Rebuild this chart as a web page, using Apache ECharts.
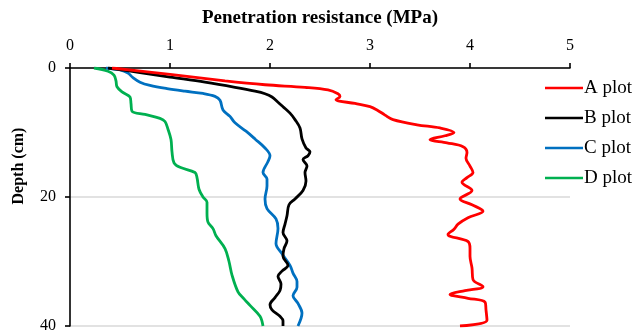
<!DOCTYPE html>
<html>
<head>
<meta charset="utf-8">
<script src="https://cdn.jsdelivr.net/npm/echarts@6/dist/echarts.min.js"></script>
<style>
  html, body { margin: 0; padding: 0; background: #fff; }
  #chart { width: 637px; height: 334px; }
</style>
</head>
<body>
<div id="chart"></div>
<script>
// Penetration resistance (MPa) against depth (cm) for four plots
const seriesNames = ['A plot', 'B plot', 'C plot', 'D plot'];
const xTicks = [0, 1, 2, 3, 4, 5];
const yTicks = [0, 20, 40];

const aDepth = [0, 1, 2, 2.6, 3.0, 3.4, 4.0, 4.4, 4.9, 5.5, 6.0, 6.5, 7.3, 8.0, 8.8, 9.3, 10.0, 10.5, 11.1, 11.6, 12.2, 13.1, 14, 15.2, 16.2, 17.0, 17.7, 19.0, 20.3, 21.2, 22.2, 23.2, 24.2, 25.0, 25.8, 26.9, 28, 29.2, 31, 32.8, 33.9, 34.5, 35.1, 35.7, 36.3, 37.5, 39.1, 40];
const aValue = [0.42, 1.0, 1.55, 1.95, 2.35, 2.58, 2.68, 2.70, 2.66, 2.85, 3.0, 3.07, 3.15, 3.23, 3.47, 3.70, 3.84, 3.75, 3.60, 3.77, 3.93, 3.97, 3.96, 4.0, 4.03, 3.97, 3.92, 4.02, 3.9, 4.02, 4.13, 3.98, 3.88, 3.84, 3.78, 3.98, 4.0, 4.0, 4.02, 4.03, 4.13, 3.95, 3.8, 3.98, 4.15, 4.16, 4.17, 3.9];

const bDepth = [0, 0.7, 1.4, 2.2, 3.0, 3.6, 4.0, 4.5, 5.3, 6.0, 7.0, 8.0, 9.3, 11.0, 12.4, 13.0, 13.6, 14.2, 15.2, 16.2, 17.5, 19.0, 20.3, 21.2, 22.9, 24.2, 25.5, 26.8, 28.0, 29.2, 30.6, 31.5, 32.3, 33.5, 34.5, 35.6, 36.7, 37.5, 38.5, 39.2, 40];
const bValue = [0.38, 0.7, 1.0, 1.35, 1.65, 1.85, 1.95, 2.02, 2.08, 2.13, 2.2, 2.25, 2.3, 2.32, 2.36, 2.4, 2.38, 2.33, 2.37, 2.35, 2.36, 2.33, 2.25, 2.19, 2.17, 2.15, 2.13, 2.17, 2.14, 2.13, 2.18, 2.12, 2.08, 2.11, 2.1, 2.05, 2.0, 2.02, 2.1, 2.13, 2.13];

const cDepth = [0, 0.3, 0.8, 1.5, 2.2, 2.7, 3.2, 3.6, 3.95, 4.4, 5.0, 6.5, 7.5, 8.5, 9.8, 11.0, 12.4, 13.6, 14.5, 16.2, 17.2, 18.3, 20.3, 21.8, 23.4, 24.9, 27.2, 28.8, 30.6, 31.8, 33.1, 34.0, 35.3, 36.5, 38.0, 40];
const cValue = [0.36, 0.5, 0.58, 0.63, 0.7, 0.8, 0.97, 1.15, 1.33, 1.45, 1.5, 1.53, 1.6, 1.65, 1.76, 1.85, 1.95, 2.0, 1.98, 1.93, 1.97, 1.97, 1.95, 1.97, 2.06, 2.08, 2.06, 2.12, 2.2, 2.23, 2.27, 2.27, 2.23, 2.28, 2.32, 2.28];

const dDepth = [0, 0.5, 1.1, 2.0, 2.9, 3.7, 4.5, 5.5, 6.7, 7.2, 7.8, 8.3, 9.5, 11.1, 13.0, 14.7, 15.4, 16.2, 17.0, 18.8, 20.0, 20.8, 22.5, 23.9, 24.9, 26.0, 28.0, 30.0, 32.1, 34.7, 35.8, 36.8, 38.5, 40];
const dValue = [0.24, 0.38, 0.44, 0.46, 0.47, 0.52, 0.6, 0.61, 0.62, 0.75, 0.9, 0.95, 0.98, 1.01, 1.02, 1.04, 1.1, 1.25, 1.27, 1.29, 1.33, 1.37, 1.37, 1.38, 1.43, 1.46, 1.55, 1.59, 1.62, 1.68, 1.74, 1.8, 1.9, 1.93];

const colors = ['#ff0000', '#000000', '#0070c0', '#00b050'];
const serif = "'Liberation Serif', 'Times New Roman', serif";

function pairs(values, depths) {
  return values.map((v, i) => [v, depths[i]]);
}

const curves = [
  pairs(aValue, aDepth),
  pairs(bValue, bDepth),
  pairs(cValue, cDepth),
  pairs(dValue, dDepth)
];

const chart = echarts.init(document.getElementById('chart'), null, { renderer: 'canvas' });

chart.setOption({
  animation: false,
  backgroundColor: '#ffffff',
  grid: { left: 70, top: 68, right: 67, bottom: 6, containLabel: false },
  legend: {
    orient: 'vertical',
    left: 540,
    top: 73,
    padding: 5,
    itemWidth: 38,
    itemHeight: 14,
    itemGap: 10,
    icon: 'path://M0,6 L38,6 L38,8.6 L0,8.6 Z',
    textStyle: { fontFamily: serif, fontSize: 19, lineHeight: 20, color: '#000', padding: [0, 0, 0, -4] },
    data: seriesNames.map((n, i) => ({ name: n, itemStyle: { color: colors[i] } }))
  },
  xAxis: {
    type: 'value',
    position: 'top',
    min: xTicks[0],
    max: xTicks[xTicks.length - 1],
    interval: 1,
    name: 'Penetration resistance (MPa)',
    nameLocation: 'middle',
    nameGap: 40,
    nameTextStyle: { fontFamily: serif, fontSize: 19, fontWeight: 'bold', color: '#000' },
    axisLine: { lineStyle: { color: '#000', width: 1.6 } },
    axisTick: { show: true, inside: false, length: 5, lineStyle: { color: '#000', width: 1.6 } },
    axisLabel: { fontFamily: serif, fontSize: 16, color: '#000', margin: 14 },
    splitLine: { show: false }
  },
  yAxis: {
    type: 'value',
    inverse: true,
    min: yTicks[0],
    max: yTicks[yTicks.length - 1],
    interval: 20,
    axisLine: { show: true, lineStyle: { color: '#000', width: 1.6 } },
    axisTick: { show: true, inside: false, length: 5, lineStyle: { color: '#000', width: 1.6 } },
    axisLabel: { fontFamily: serif, fontSize: 16, color: '#000', margin: 14 },
    splitLine: { show: true, lineStyle: { color: '#d9d9d9', width: 1.5 } }
  },
  graphic: [{
    type: 'text',
    x: 19,
    y: 166,
    rotation: Math.PI / 2,
    style: {
      text: 'Depth (cm)',
      font: "bold 16px 'Liberation Serif', 'Times New Roman', serif",
      fill: '#000',
      align: 'center',
      verticalAlign: 'middle'
    }
  }],
  series: curves.map((data, i) => ({
    name: seriesNames[i],
    type: 'line',
    data: data,
    smooth: 0.35,
    symbol: 'none',
    showSymbol: false,
    color: colors[i],
    lineStyle: { color: colors[i], width: 2.8 },
    clip: true,
    z: 10 - i
  }))
});
</script>
</body>
</html>
